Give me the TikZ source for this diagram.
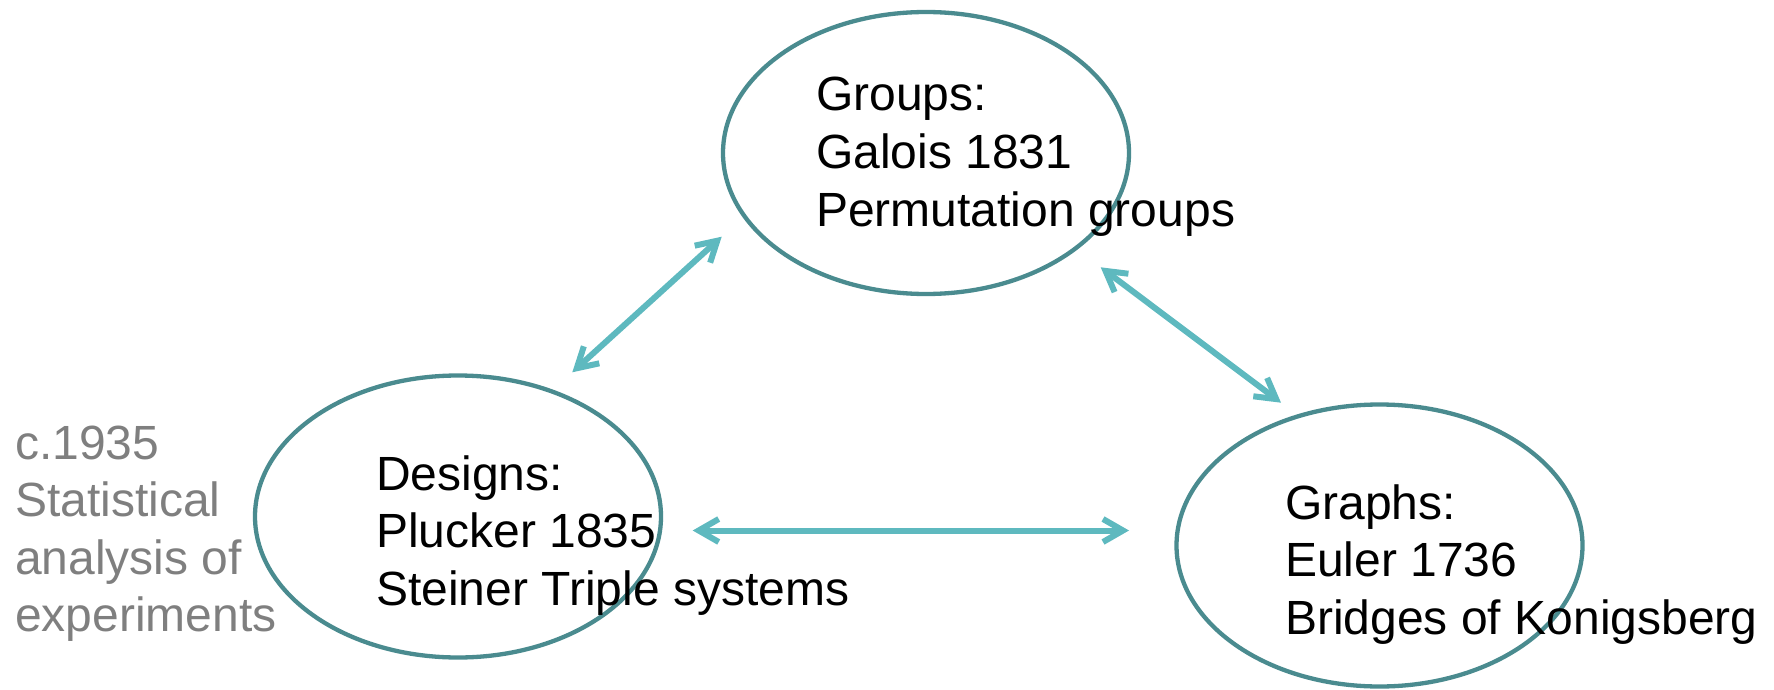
\documentclass[tikz,border=0pt]{standalone}
\usepackage{fontspec}
\setmainfont{Liberation Sans}
\usetikzlibrary{shapes.geometric,arrows.meta}
\definecolor{ringteal}{RGB}{74,139,143}
\definecolor{linkteal}{RGB}{94,185,191}
\definecolor{notegray}{RGB}{127,127,127}
% left-aligned block of lines whose baseline is that of its first line
\newcommand{\txtlines}[1]{\begin{tabular}[t]{@{}l@{}}#1\end{tabular}}
\begin{document}
\begin{tikzpicture}[x=1pt,y=-1pt,
  ring/.style={ellipse, draw=ringteal, line width=4.3pt,
    minimum width=406pt, minimum height=282pt, inner sep=0pt},
  txtblock/.style={anchor=base west, inner sep=0pt,
    font=\fontsize{48}{57.6}\selectfont, text=black},
  note/.style={txtblock, text=notegray},
  barb/.tip={Straight Barb[length=20pt,width=23pt]},
  link/.style={draw=linkteal, line width=6pt, barb-barb}
]
\useasboundingbox (0,0) rectangle (1774,690);

% the three topic rings
\node[ring] (groups)  at (926,153)   {};
\node[ring] (designs) at (458,516.5) {};
\node[ring] (graphs)  at (1379.5,545.5) {};

% topic texts
\node[txtblock] (groupstxt)  at (816,111)  {\txtlines{Groups:\\Galois 1831\\Permutation groups}};
\node[txtblock] (designstxt) at (376,490)  {\txtlines{Designs:\\Plucker 1835\\Steiner Triple systems}};
\node[txtblock] (graphstxt)  at (1285,519) {\txtlines{Graphs:\\Euler 1736\\Bridges of Konigsberg}};
\node[note] (statnote) at (15,459) {\txtlines{c.1935\\Statistical\\analysis of\\experiments}};

% ends of the two-way links
\coordinate (dgA) at (572.3,372.3);
\coordinate (grA) at (721.7,236.7);
\coordinate (grB) at (1100.7,267.3);
\coordinate (ghA) at (1281,402.7);
\coordinate (dgB) at (692.7,530.5);
\coordinate (ghB) at (1129,530.5);

\draw[link] (dgA) -- (grA);
\draw[link] (grB) -- (ghA);
\draw[link] (dgB) -- (ghB);
\end{tikzpicture}
\end{document}
